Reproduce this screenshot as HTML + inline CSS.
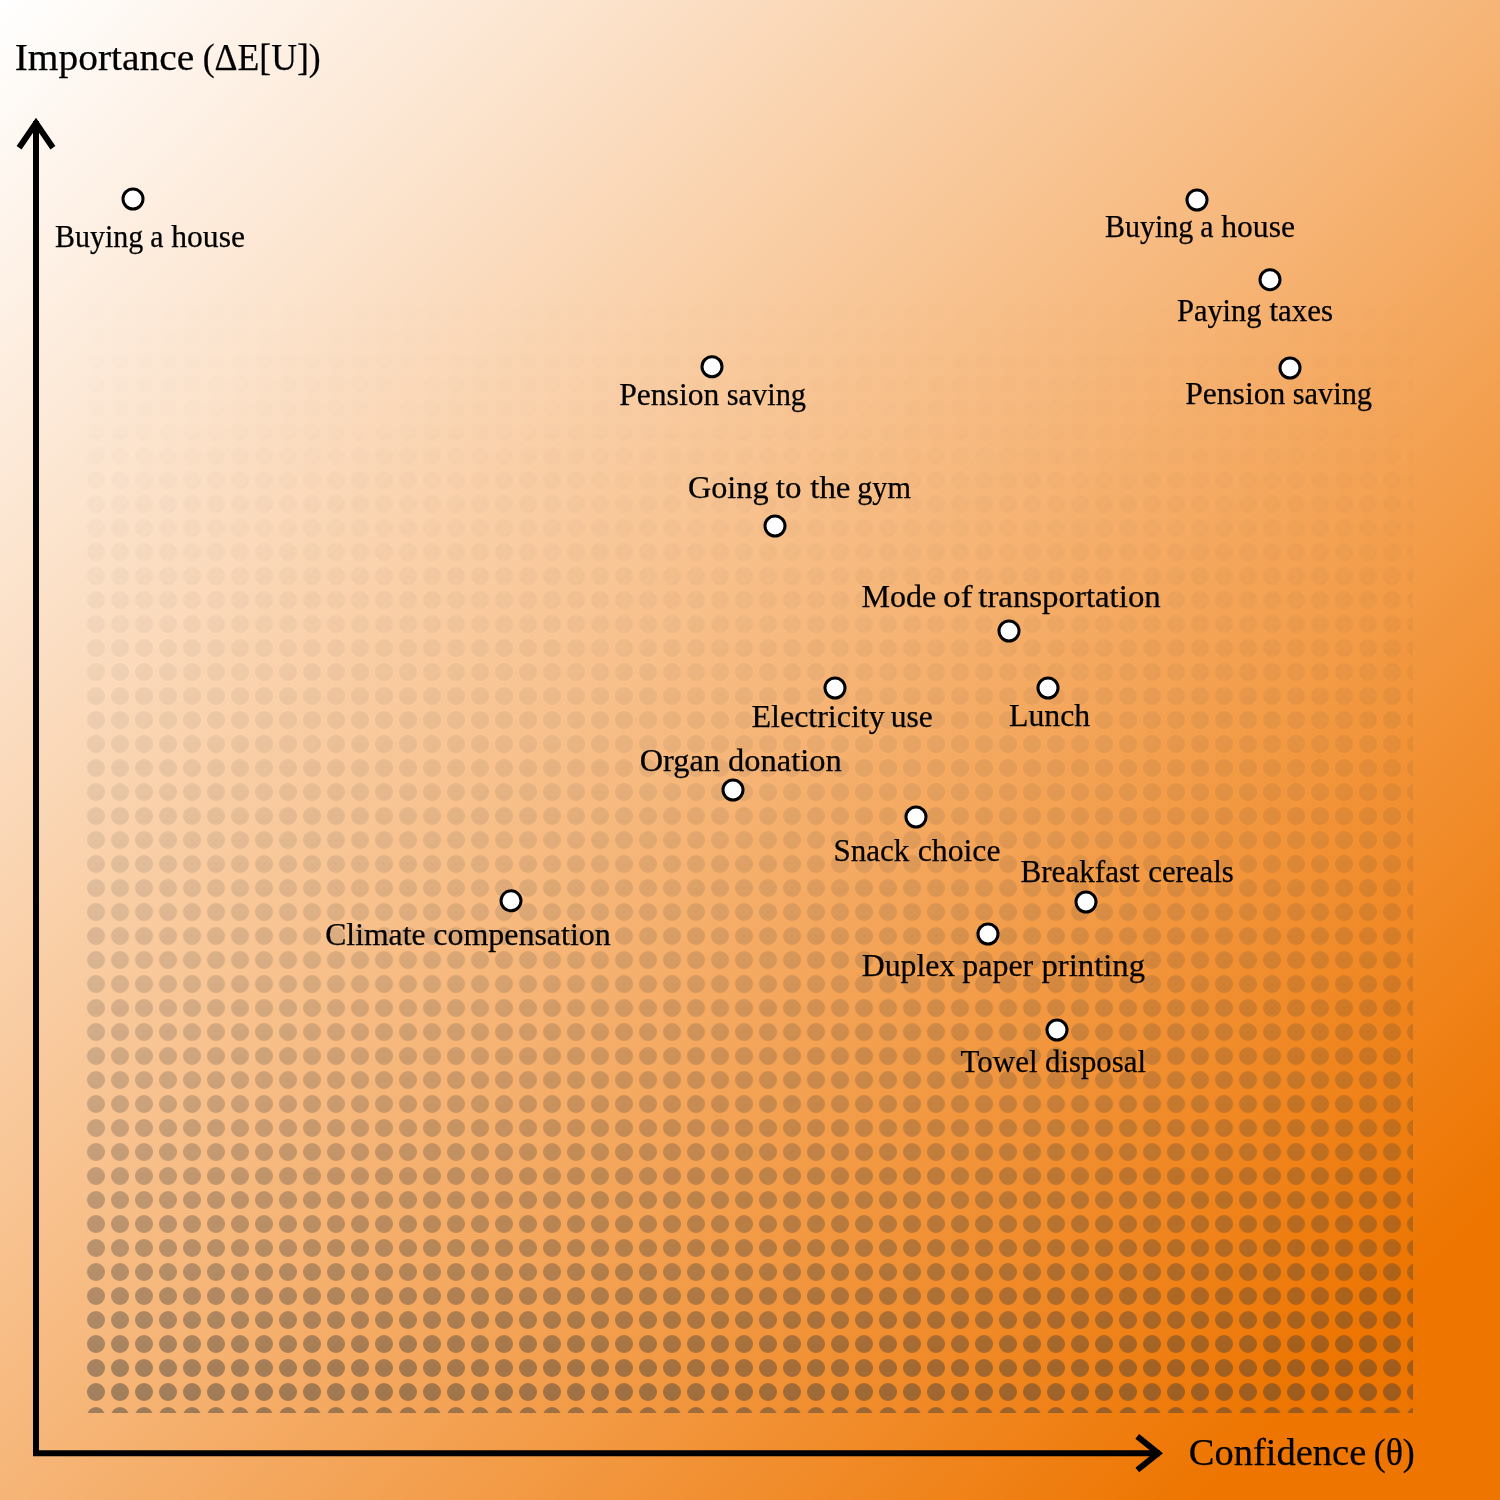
<!DOCTYPE html>
<html lang="en"><head><meta charset="utf-8"><title>Importance vs Confidence</title>
<style>
html,body{margin:0;padding:0;background:#fff;}
body{width:1500px;height:1500px;font-family:"Liberation Serif",serif;}
svg{display:block;}
</style></head><body>

<svg width="1500" height="1500" viewBox="0 0 1500 1500" role="img" aria-label="Importance versus confidence of everyday decisions">
<defs>
<linearGradient id="bg" gradientUnits="userSpaceOnUse" x1="0" y1="0" x2="1350" y2="1350"><stop offset="0" stop-color="#ffffff"/><stop offset="0.2222" stop-color="#fce3cc"/><stop offset="0.5556" stop-color="#f6b577"/><stop offset="1" stop-color="#ee7500"/></linearGradient>
<pattern id="dots" patternUnits="userSpaceOnUse" x="-12" y="-12" width="24" height="24"><circle cx="12" cy="12" r="9" fill="#fff"/></pattern>
<mask id="dm" maskUnits="userSpaceOnUse" x="87" y="87" width="1326" height="1326"><rect x="87" y="87" width="1326" height="1326" fill="url(#dots)"/></mask>
</defs>
<g id="bgrect" shape-rendering="crispEdges">
<rect width="1500" height="1500" fill="#ffffff"/>
<path fill="#fffffe" d="M5.5 0H11.5L0 11.5V5.5z"/>
<path fill="#fffefe" d="M10.5 0H18.5L0 18.5V10.5z"/>
<path fill="#fffefd" d="M17.5 0H30.5L0 30.5V17.5z"/>
<path fill="#fffefc" d="M29.5 0H33.5L0 33.5V29.5z"/>
<path fill="#fffdfc" d="M32.5 0H42.5L0 42.5V32.5z"/>
<path fill="#fffdfb" d="M41.5 0H53.5L0 53.5V41.5z"/>
<path fill="#fffdfa" d="M52.5 0H54.5L0 54.5V52.5z"/>
<path fill="#fffcfa" d="M53.5 0H65.5L0 65.5V53.5z"/>
<path fill="#fffcf9" d="M64.5 0H75.5L0 75.5V64.5z"/>
<path fill="#fffbf9" d="M74.5 0H77.5L0 77.5V74.5z"/>
<path fill="#fffbf8" d="M76.5 0H89.5L0 89.5V76.5z"/>
<path fill="#fffbf7" d="M88.5 0H97.5L0 97.5V88.5z"/>
<path fill="#fffaf7" d="M96.5 0H100.5L0 100.5V96.5z"/>
<path fill="#fefaf6" d="M99.5 0H112.5L0 112.5V99.5z"/>
<path fill="#fefaf5" d="M111.5 0H118.5L0 118.5V111.5z"/>
<path fill="#fef9f5" d="M117.5 0H124.5L0 124.5V117.5z"/>
<path fill="#fef9f4" d="M123.5 0H136.5L0 136.5V123.5z"/>
<path fill="#fef9f3" d="M135.5 0H140.5L0 140.5V135.5z"/>
<path fill="#fef8f3" d="M139.5 0H148.5L0 148.5V139.5z"/>
<path fill="#fef8f2" d="M147.5 0H159.5L0 159.5V147.5z"/>
<path fill="#fef8f1" d="M158.5 0H161.5L0 161.5V158.5z"/>
<path fill="#fef7f1" d="M160.5 0H171.5L0 171.5V160.5z"/>
<path fill="#fef7f0" d="M170.5 0H183.5L0 183.5V170.5z"/>
<path fill="#fef6ef" d="M182.5 0H195.5L0 195.5V182.5z"/>
<path fill="#fef6ee" d="M194.5 0H204.5L0 204.5V194.5z"/>
<path fill="#fef5ee" d="M203.5 0H206.5L0 206.5V203.5z"/>
<path fill="#fef5ed" d="M205.5 0H218.5L0 218.5V205.5z"/>
<path fill="#fef5ec" d="M217.5 0H225.5L0 225.5V217.5z"/>
<path fill="#fef4ec" d="M224.5 0H230.5L0 230.5V224.5z"/>
<path fill="#fef4eb" d="M229.5 0H242.5L0 242.5V229.5z"/>
<path fill="#fef4ea" d="M241.5 0H247.5L0 247.5V241.5z"/>
<path fill="#fef3ea" d="M246.5 0H253.5L0 253.5V246.5z"/>
<path fill="#fef3e9" d="M252.5 0H265.5L0 265.5V252.5z"/>
<path fill="#fef3e8" d="M264.5 0H268.5L0 268.5V264.5z"/>
<path fill="#fef2e8" d="M267.5 0H277.5L0 277.5V267.5z"/>
<path fill="#fef2e7" d="M276.5 0H289.5L0 289.5V276.5z"/>
<path fill="#fef2e6" d="M288.5 0H290.5L0 290.5V288.5z"/>
<path fill="#fef1e6" d="M289.5 0H300.5L0 300.5V289.5z"/>
<path fill="#fdf1e5" d="M299.5 0H311.5L0 311.5V299.5z"/>
<path fill="#fdf0e5" d="M310.5 0H312.5L0 312.5V310.5z"/>
<path fill="#fdf0e4" d="M311.5 0H324.5L0 324.5V311.5z"/>
<path fill="#fdf0e3" d="M323.5 0H333.5L0 333.5V323.5z"/>
<path fill="#fdefe3" d="M332.5 0H336.5L0 336.5V332.5z"/>
<path fill="#fdefe2" d="M335.5 0H348.5L0 348.5V335.5z"/>
<path fill="#fdefe1" d="M347.5 0H354.5L0 354.5V347.5z"/>
<path fill="#fdeee1" d="M353.5 0H359.5L0 359.5V353.5z"/>
<path fill="#fdeee0" d="M358.5 0H371.5L0 371.5V358.5z"/>
<path fill="#fdeedf" d="M370.5 0H375.5L0 375.5V370.5z"/>
<path fill="#fdeddf" d="M374.5 0H383.5L0 383.5V374.5z"/>
<path fill="#fdedde" d="M382.5 0H395.5L0 395.5V382.5z"/>
<path fill="#fdeddd" d="M394.5 0H397.5L0 397.5V394.5z"/>
<path fill="#fdecdd" d="M396.5 0H406.5L0 406.5V396.5z"/>
<path fill="#fdecdc" d="M405.5 0H418.5L0 418.5V405.5z"/>
<path fill="#fdebdb" d="M417.5 0H430.5L0 430.5V417.5z"/>
<path fill="#fdebda" d="M429.5 0H440.5L0 440.5V429.5z"/>
<path fill="#fdeada" d="M439.5 0H442.5L0 442.5V439.5z"/>
<path fill="#fdead9" d="M441.5 0H453.5L0 453.5V441.5z"/>
<path fill="#fdead8" d="M452.5 0H461.5L0 461.5V452.5z"/>
<path fill="#fde9d8" d="M460.5 0H465.5L0 465.5V460.5z"/>
<path fill="#fde9d7" d="M464.5 0H477.5L0 477.5V464.5z"/>
<path fill="#fde9d6" d="M476.5 0H483.5L0 483.5V476.5z"/>
<path fill="#fde8d6" d="M482.5 0H489.5L0 489.5V482.5z"/>
<path fill="#fde8d5" d="M488.5 0H500.5L0 500.5V488.5z"/>
<path fill="#fce8d4" d="M499.5 0H504.5L0 504.5V499.5z"/>
<path fill="#fce7d4" d="M503.5 0H512.5L0 512.5V503.5z"/>
<path fill="#fce7d3" d="M511.5 0H524.5L0 524.5V511.5z"/>
<path fill="#fce7d2" d="M523.5 0H525.5L0 525.5V523.5z"/>
<path fill="#fce6d2" d="M524.5 0H536.5L0 536.5V524.5z"/>
<path fill="#fce6d1" d="M535.5 0H547.5L0 547.5V535.5z"/>
<path fill="#fce5d1" d="M546.5 0H548.5L0 548.5V546.5z"/>
<path fill="#fce5d0" d="M547.5 0H559.5L0 559.5V547.5z"/>
<path fill="#fce5cf" d="M558.5 0H568.5L0 568.5V558.5z"/>
<path fill="#fce4cf" d="M567.5 0H571.5L0 571.5V567.5z"/>
<path fill="#fce4ce" d="M570.5 0H583.5L0 583.5V570.5z"/>
<path fill="#fce4cd" d="M582.5 0H590.5L0 590.5V582.5z"/>
<path fill="#fce3cd" d="M589.5 0H595.5L0 595.5V589.5z"/>
<path fill="#fce3cc" d="M594.5 0H606.5L0 606.5V594.5z"/>
<path fill="#fce3cb" d="M605.5 0H610.5L0 610.5V605.5z"/>
<path fill="#fce2cb" d="M609.5 0H616.5L0 616.5V609.5z"/>
<path fill="#fce2ca" d="M615.5 0H627.5L0 627.5V615.5z"/>
<path fill="#fce2c9" d="M626.5 0H630.5L0 630.5V626.5z"/>
<path fill="#fce1c9" d="M629.5 0H638.5L0 638.5V629.5z"/>
<path fill="#fce1c8" d="M637.5 0H648.5L0 648.5V637.5z"/>
<path fill="#fce1c7" d="M647.5 0H649.5L0 649.5V647.5z"/>
<path fill="#fce0c7" d="M648.5 0H659.5L0 659.5V648.5z"/>
<path fill="#fce0c6" d="M658.5 0H669.5L0 669.5V658.5z"/>
<path fill="#fcdfc5" d="M668.5 0H675.5L0 675.5V668.5z"/>
<path fill="#fbdfc5" d="M674.5 0H680.5L0 680.5V674.5z"/>
<path fill="#fbdfc4" d="M679.5 0H689.5L0 689.5V679.5z"/>
<path fill="#fbdec4" d="M688.5 0H690.5L0 690.5V688.5z"/>
<path fill="#fbdec3" d="M689.5 0H701.5L0 701.5V689.5z"/>
<path fill="#fbdec2" d="M700.5 0H708.5L0 708.5V700.5z"/>
<path fill="#fbddc2" d="M707.5 0H712.5L0 712.5V707.5z"/>
<path fill="#fbddc1" d="M711.5 0H722.5L0 722.5V711.5z"/>
<path fill="#fbddc0" d="M721.5 0H728.5L0 728.5V721.5z"/>
<path fill="#fbdcc0" d="M727.5 0H733.5L0 733.5V727.5z"/>
<path fill="#fbdcbf" d="M732.5 0H743.5L0 743.5V732.5z"/>
<path fill="#fbdcbe" d="M742.5 0H747.5L0 747.5V742.5z"/>
<path fill="#fbdbbe" d="M746.5 0H754.5L0 754.5V746.5z"/>
<path fill="#fbdbbd" d="M753.5 0H765.5L0 765.5V753.5z"/>
<path fill="#fbdbbc" d="M764.5 0H767.5L0 767.5V764.5z"/>
<path fill="#fbdabc" d="M766.5 0H775.5L0 775.5V766.5z"/>
<path fill="#fbdabb" d="M774.5 0H786.5L0 786.5V774.5z"/>
<path fill="#fbd9ba" d="M785.5 0H796.5L0 796.5V785.5z"/>
<path fill="#fbd9b9" d="M795.5 0H806.5L0 806.5V795.5z"/>
<path fill="#fbd8b9" d="M805.5 0H807.5L0 807.5V805.5z"/>
<path fill="#fbd8b8" d="M806.5 0H818.5L0 818.5V806.5z"/>
<path fill="#fbd8b7" d="M817.5 0H825.5L0 825.5V817.5z"/>
<path fill="#fad7b7" d="M824.5 0H828.5L0 828.5V824.5z"/>
<path fill="#fad7b6" d="M827.5 0H839.5L0 839.5V827.5z"/>
<path fill="#fad7b5" d="M838.5 0H845.5L0 845.5V838.5z"/>
<path fill="#fad6b5" d="M844.5 0H849.5L0 849.5V844.5z"/>
<path fill="#fad6b4" d="M848.5 0H860.5L0 860.5V848.5z"/>
<path fill="#fad6b3" d="M859.5 0H865.5L0 865.5V859.5z"/>
<path fill="#fad5b3" d="M864.5 0H870.5L0 870.5V864.5z"/>
<path fill="#fad5b2" d="M869.5 0H881.5L0 881.5V869.5z"/>
<path fill="#fad5b1" d="M880.5 0H884.5L0 884.5V880.5z"/>
<path fill="#fad4b1" d="M883.5 0H892.5L0 892.5V883.5z"/>
<path fill="#fad4b0" d="M891.5 0H902.5L0 902.5V891.5z"/>
<path fill="#fad4af" d="M901.5 0H904.5L0 904.5V901.5z"/>
<path fill="#fad3af" d="M903.5 0H913.5L0 913.5V903.5z"/>
<path fill="#fad3ae" d="M912.5 0H923.5L0 923.5V912.5z"/>
<path fill="#fad2ad" d="M922.5 0H934.5L0 934.5V922.5z"/>
<path fill="#fad2ac" d="M933.5 0H943.5L0 943.5V933.5z"/>
<path fill="#fad1ac" d="M942.5 0H945.5L0 945.5V942.5z"/>
<path fill="#fad1ab" d="M944.5 0H955.5L0 955.5V944.5z"/>
<path fill="#fad1aa" d="M954.5 0H962.5L0 962.5V954.5z"/>
<path fill="#fad0aa" d="M961.5 0H966.5L0 966.5V961.5z"/>
<path fill="#fad0a9" d="M965.5 0H976.5L0 976.5V965.5z"/>
<path fill="#f9d0a8" d="M975.5 0H982.5L0 982.5V975.5z"/>
<path fill="#f9cfa8" d="M981.5 0H987.5L0 987.5V981.5z"/>
<path fill="#f9cfa7" d="M986.5 0H998.5L0 998.5V986.5z"/>
<path fill="#f9cfa6" d="M997.5 0H1002.5L0 1002.5V997.5z"/>
<path fill="#f9cea6" d="M1001.5 0H1008.5L0 1008.5V1001.5z"/>
<path fill="#f9cea5" d="M1007.5 0H1019.5L0 1019.5V1007.5z"/>
<path fill="#f9cea4" d="M1018.5 0H1021.5L0 1021.5V1018.5z"/>
<path fill="#f9cda4" d="M1020.5 0H1029.5L0 1029.5V1020.5z"/>
<path fill="#f9cda3" d="M1028.5 0H1040.5L0 1040.5V1028.5z"/>
<path fill="#f9cda2" d="M1039.5 0H1041.5L0 1041.5V1039.5z"/>
<path fill="#f9cca2" d="M1040.5 0H1051.5L0 1051.5V1040.5z"/>
<path fill="#f9cca1" d="M1050.5 0H1060.5L0 1060.5V1050.5z"/>
<path fill="#f9cba1" d="M1059.5 0H1061.5L0 1061.5V1059.5z"/>
<path fill="#f9cba0" d="M1060.5 0H1072.5L0 1072.5V1060.5z"/>
<path fill="#f9cb9f" d="M1071.5 0H1080.5L0 1080.5V1071.5z"/>
<path fill="#f9ca9f" d="M1079.5 0H1082.5L0 1082.5V1079.5z"/>
<path fill="#f9ca9e" d="M1081.5 0H1093.5L0 1093.5V1081.5z"/>
<path fill="#f9ca9d" d="M1092.5 0H1099.5L0 1099.5V1092.5z"/>
<path fill="#f9c99d" d="M1098.5 0H1103.5L0 1103.5V1098.5z"/>
<path fill="#f9c99c" d="M1102.5 0H1114.5L0 1114.5V1102.5z"/>
<path fill="#f9c99b" d="M1113.5 0H1119.5L0 1119.5V1113.5z"/>
<path fill="#f9c89b" d="M1118.5 0H1125.5L0 1125.5V1118.5z"/>
<path fill="#f9c89a" d="M1124.5 0H1126.5L0 1126.5V1124.5z"/>
<path fill="#f8c89a" d="M1125.5 0H1135.5L0 1135.5V1125.5z"/>
<path fill="#f8c899" d="M1134.5 0H1139.5L0 1139.5V1134.5z"/>
<path fill="#f8c799" d="M1138.5 0H1146.5L0 1146.5V1138.5z"/>
<path fill="#f8c798" d="M1145.5 0H1156.5L0 1156.5V1145.5z"/>
<path fill="#f8c797" d="M1155.5 0H1158.5L0 1158.5V1155.5z"/>
<path fill="#f8c697" d="M1157.5 0H1167.5L0 1167.5V1157.5z"/>
<path fill="#f8c696" d="M1166.5 0H1178.5L0 1178.5V1166.5z"/>
<path fill="#f8c595" d="M1177.5 0H1188.5L0 1188.5V1177.5z"/>
<path fill="#f8c594" d="M1187.5 0H1197.5L0 1197.5V1187.5z"/>
<path fill="#f8c494" d="M1196.5 0H1199.5L0 1199.5V1196.5z"/>
<path fill="#f8c493" d="M1198.5 0H1209.5L0 1209.5V1198.5z"/>
<path fill="#f8c492" d="M1208.5 0H1217.5L0 1217.5V1208.5z"/>
<path fill="#f8c392" d="M1216.5 0H1220.5L0 1220.5V1216.5z"/>
<path fill="#f8c391" d="M1219.5 0H1231.5L0 1231.5V1219.5z"/>
<path fill="#f8c390" d="M1230.5 0H1236.5L0 1236.5V1230.5z"/>
<path fill="#f8c290" d="M1235.5 0H1241.5L0 1241.5V1235.5z"/>
<path fill="#f8c28f" d="M1240.5 0H1252.5L0 1252.5V1240.5z"/>
<path fill="#f8c28e" d="M1251.5 0H1256.5L0 1256.5V1251.5z"/>
<path fill="#f8c18e" d="M1255.5 0H1262.5L0 1262.5V1255.5z"/>
<path fill="#f8c18d" d="M1261.5 0H1273.5L0 1273.5V1261.5z"/>
<path fill="#f8c18c" d="M1272.5 0H1276.5L0 1276.5V1272.5z"/>
<path fill="#f7c08c" d="M1275.5 0H1284.5L0 1284.5V1275.5z"/>
<path fill="#f7c08b" d="M1283.5 0H1294.5L0 1294.5V1283.5z"/>
<path fill="#f7c08a" d="M1293.5 0H1295.5L0 1295.5V1293.5z"/>
<path fill="#f7bf8a" d="M1294.5 0H1305.5L0 1305.5V1294.5z"/>
<path fill="#f7bf89" d="M1304.5 0H1315.5L0 1315.5V1304.5z"/>
<path fill="#f7be88" d="M1314.5 0H1326.5L0 1326.5V1314.5z"/>
<path fill="#f7be87" d="M1325.5 0H1334.5L0 1334.5V1325.5z"/>
<path fill="#f7bd87" d="M1333.5 0H1336.5L0 1336.5V1333.5z"/>
<path fill="#f7bd86" d="M1335.5 0H1347.5L0 1347.5V1335.5z"/>
<path fill="#f7bd85" d="M1346.5 0H1354.5L0 1354.5V1346.5z"/>
<path fill="#f7bc85" d="M1353.5 0H1358.5L0 1358.5V1353.5z"/>
<path fill="#f7bc84" d="M1357.5 0H1368.5L0 1368.5V1357.5z"/>
<path fill="#f7bc83" d="M1367.5 0H1373.5L0 1373.5V1367.5z"/>
<path fill="#f7bb83" d="M1372.5 0H1379.5L0 1379.5V1372.5z"/>
<path fill="#f7bb82" d="M1378.5 0H1389.5L0 1389.5V1378.5z"/>
<path fill="#f7bb81" d="M1388.5 0H1393.5L0 1393.5V1388.5z"/>
<path fill="#f7ba81" d="M1392.5 0H1400.5L0 1400.5V1392.5z"/>
<path fill="#f7ba80" d="M1399.5 0H1411.5L0 1411.5V1399.5z"/>
<path fill="#f7ba7f" d="M1410.5 0H1413.5L0 1413.5V1410.5z"/>
<path fill="#f7b97f" d="M1412.5 0H1421.5L0 1421.5V1412.5z"/>
<path fill="#f7b97e" d="M1420.5 0H1426.5L0 1426.5V1420.5z"/>
<path fill="#f6b97e" d="M1425.5 0H1432.5L0 1432.5V1425.5z"/>
<path fill="#f6b87d" d="M1431.5 0H1442.5L0 1442.5V1431.5z"/>
<path fill="#f6b87c" d="M1441.5 0H1452.5L0 1452.5V1441.5z"/>
<path fill="#f6b77c" d="M1451.5 0H1453.5L0 1453.5V1451.5z"/>
<path fill="#f6b77b" d="M1452.5 0H1464.5L0 1464.5V1452.5z"/>
<path fill="#f6b77a" d="M1463.5 0H1471.5L0 1471.5V1463.5z"/>
<path fill="#f6b67a" d="M1470.5 0H1474.5L0 1474.5V1470.5z"/>
<path fill="#f6b679" d="M1473.5 0H1485.5L0 1485.5V1473.5z"/>
<path fill="#f6b678" d="M1484.5 0H1491.5L0 1491.5V1484.5z"/>
<path fill="#f6b578" d="M1490.5 0H1495.5L0 1495.5V1490.5z"/>
<path fill="#f6b577" d="M1494.5 0H1506.5L0 1506.5V1494.5z"/>
<path fill="#f6b576" d="M1505.5 0H1510.5L0 1510.5V1505.5z"/>
<path fill="#f6b476" d="M1509.5 0H1516.5L0 1516.5V1509.5z"/>
<path fill="#f6b475" d="M1515.5 0H1526.5L0 1526.5V1515.5z"/>
<path fill="#f6b474" d="M1525.5 0H1529.5L0 1529.5V1525.5z"/>
<path fill="#f6b374" d="M1528.5 0H1536.5L0 1536.5V1528.5z"/>
<path fill="#f6b373" d="M1535.5 0H1546.5L0 1546.5V1535.5z"/>
<path fill="#f6b372" d="M1545.5 0H1547.5L0 1547.5V1545.5z"/>
<path fill="#f6b272" d="M1546.5 0H1556.5L0 1556.5V1546.5z"/>
<path fill="#f6b271" d="M1555.5 0H1566.5L0 1566.5V1555.5z"/>
<path fill="#f6b170" d="M1565.5 0H1576.5L0 1576.5V1565.5z"/>
<path fill="#f5b16f" d="M1575.5 0H1585.5L0 1585.5V1575.5z"/>
<path fill="#f5b06f" d="M1584.5 0H1586.5L0 1586.5V1584.5z"/>
<path fill="#f5b06e" d="M1585.5 0H1596.5L0 1596.5V1585.5z"/>
<path fill="#f5b06d" d="M1595.5 0H1604.5L0 1604.5V1595.5z"/>
<path fill="#f5af6d" d="M1603.5 0H1606.5L0 1606.5V1603.5z"/>
<path fill="#f5af6c" d="M1605.5 0H1617.5L0 1617.5V1605.5z"/>
<path fill="#f5af6b" d="M1616.5 0H1622.5L0 1622.5V1616.5z"/>
<path fill="#f5ae6b" d="M1621.5 0H1627.5L0 1627.5V1621.5z"/>
<path fill="#f5ae6a" d="M1626.5 0H1637.5L0 1637.5V1626.5z"/>
<path fill="#f5ae69" d="M1636.5 0H1641.5L0 1641.5V1636.5z"/>
<path fill="#f5ad69" d="M1640.5 0H1647.5L0 1647.5V1640.5z"/>
<path fill="#f5ad68" d="M1646.5 0H1657.5L0 1657.5V1646.5z"/>
<path fill="#f5ad67" d="M1656.5 0H1660.5L0 1660.5V1656.5z"/>
<path fill="#f5ac67" d="M1659.5 0H1667.5L0 1667.5V1659.5z"/>
<path fill="#f5ac66" d="M1666.5 0H1677.5L0 1677.5V1666.5z"/>
<path fill="#f5ac65" d="M1676.5 0H1679.5L0 1679.5V1676.5z"/>
<path fill="#f5ab65" d="M1678.5 0H1687.5L0 1687.5V1678.5z"/>
<path fill="#f5ab64" d="M1686.5 0H1697.5L0 1697.5V1686.5z"/>
<path fill="#f5aa63" d="M1696.5 0H1707.5L0 1707.5V1696.5z"/>
<path fill="#f5aa62" d="M1706.5 0H1716.5L0 1716.5V1706.5z"/>
<path fill="#f5a962" d="M1715.5 0H1717.5L0 1717.5V1715.5z"/>
<path fill="#f5a961" d="M1716.5 0H1726.5L0 1726.5V1716.5z"/>
<path fill="#f4a961" d="M1725.5 0H1727.5L0 1727.5V1725.5z"/>
<path fill="#f4a960" d="M1726.5 0H1735.5L0 1735.5V1726.5z"/>
<path fill="#f4a860" d="M1734.5 0H1738.5L0 1738.5V1734.5z"/>
<path fill="#f4a85f" d="M1737.5 0H1748.5L0 1748.5V1737.5z"/>
<path fill="#f4a85e" d="M1747.5 0H1754.5L0 1754.5V1747.5z"/>
<path fill="#f4a75e" d="M1753.5 0H1758.5L0 1758.5V1753.5z"/>
<path fill="#f4a75d" d="M1757.5 0H1768.5L0 1768.5V1757.5z"/>
<path fill="#f4a75c" d="M1767.5 0H1772.5L0 1772.5V1767.5z"/>
<path fill="#f4a65c" d="M1771.5 0H1778.5L0 1778.5V1771.5z"/>
<path fill="#f4a65b" d="M1777.5 0H1788.5L0 1788.5V1777.5z"/>
<path fill="#f4a65a" d="M1787.5 0H1791.5L0 1791.5V1787.5z"/>
<path fill="#f4a55a" d="M1790.5 0H1798.5L0 1798.5V1790.5z"/>
<path fill="#f4a559" d="M1797.5 0H1808.5L0 1808.5V1797.5z"/>
<path fill="#f4a558" d="M1807.5 0H1810.5L0 1810.5V1807.5z"/>
<path fill="#f4a458" d="M1809.5 0H1818.5L0 1818.5V1809.5z"/>
<path fill="#f4a457" d="M1817.5 0H1828.5L0 1828.5V1817.5z"/>
<path fill="#f4a456" d="M1827.5 0H1829.5L0 1829.5V1827.5z"/>
<path fill="#f4a356" d="M1828.5 0H1838.5L0 1838.5V1828.5z"/>
<path fill="#f4a355" d="M1837.5 0H1847.5L0 1847.5V1837.5z"/>
<path fill="#f4a255" d="M1846.5 0H1848.5L0 1848.5V1846.5z"/>
<path fill="#f4a254" d="M1847.5 0H1859.5L0 1859.5V1847.5z"/>
<path fill="#f4a253" d="M1858.5 0H1866.5L0 1866.5V1858.5z"/>
<path fill="#f4a153" d="M1865.5 0H1869.5L0 1869.5V1865.5z"/>
<path fill="#f4a152" d="M1868.5 0H1876.5L0 1876.5V1868.5z"/>
<path fill="#f3a152" d="M1875.5 0H1879.5L0 1879.5V1875.5z"/>
<path fill="#f3a151" d="M1878.5 0H1885.5L0 1885.5V1878.5z"/>
<path fill="#f3a051" d="M1884.5 0H1889.5L0 1889.5V1884.5z"/>
<path fill="#f3a050" d="M1888.5 0H1899.5L0 1899.5V1888.5z"/>
<path fill="#f3a04f" d="M1898.5 0H1904.5L0 1904.5V1898.5z"/>
<path fill="#f39f4f" d="M1903.5 0H1909.5L0 1909.5V1903.5z"/>
<path fill="#f39f4e" d="M1908.5 0H1919.5L0 1919.5V1908.5z"/>
<path fill="#f39f4d" d="M1918.5 0H1922.5L0 1922.5V1918.5z"/>
<path fill="#f39e4d" d="M1921.5 0H1929.5L0 1929.5V1921.5z"/>
<path fill="#f39e4c" d="M1928.5 0H1939.5L0 1939.5V1928.5z"/>
<path fill="#f39e4b" d="M1938.5 0H1941.5L0 1941.5V1938.5z"/>
<path fill="#f39d4b" d="M1940.5 0H1949.5L0 1949.5V1940.5z"/>
<path fill="#f39d4a" d="M1948.5 0H1959.5L0 1959.5V1948.5z"/>
<path fill="#f39d49" d="M1958.5 0H1960.5L0 1960.5V1958.5z"/>
<path fill="#f39c49" d="M1959.5 0H1969.5L0 1969.5V1959.5z"/>
<path fill="#f39c48" d="M1968.5 0H1979.5L0 1979.5V1968.5z"/>
<path fill="#f39b48" d="M1978.5 0H1980.5L0 1980.5V1978.5z"/>
<path fill="#f39b47" d="M1979.5 0H1990.5L0 1990.5V1979.5z"/>
<path fill="#f39b46" d="M1989.5 0H1997.5L0 1997.5V1989.5z"/>
<path fill="#f39a46" d="M1996.5 0H2000.5L0 2000.5V1996.5z"/>
<path fill="#f39a45" d="M1999.5 0H2010.5L0 2010.5V1999.5z"/>
<path fill="#f39a44" d="M2009.5 0H2016.5L0 2016.5V2009.5z"/>
<path fill="#f39944" d="M2015.5 0H2020.5L0 2020.5V2015.5z"/>
<path fill="#f39943" d="M2019.5 0H2026.5L0 2026.5V2019.5z"/>
<path fill="#f29943" d="M2025.5 0H2030.5L0 2030.5V2025.5z"/>
<path fill="#f29942" d="M2029.5 0H2035.5L0 2035.5V2029.5z"/>
<path fill="#f29842" d="M2034.5 0H2040.5L0 2040.5V2034.5z"/>
<path fill="#f29841" d="M2039.5 0H2050.5L0 2050.5V2039.5z"/>
<path fill="#f29840" d="M2049.5 0H2054.5L0 2054.5V2049.5z"/>
<path fill="#f29740" d="M2053.5 0H2060.5L0 2060.5V2053.5z"/>
<path fill="#f2973f" d="M2059.5 0H2070.5L0 2070.5V2059.5z"/>
<path fill="#f2973e" d="M2069.5 0H2072.5L0 2072.5V2069.5z"/>
<path fill="#f2963e" d="M2071.5 0H2080.5L0 2080.5V2071.5z"/>
<path fill="#f2963d" d="M2079.5 0H2090.5L0 2090.5V2079.5z"/>
<path fill="#f2963c" d="M2089.5 0H2091.5L0 2091.5V2089.5z"/>
<path fill="#f2953c" d="M2090.5 0H2101.5L0 2101.5V2090.5z"/>
<path fill="#f2953b" d="M2100.5 0H2110.5L0 2110.5V2100.5z"/>
<path fill="#f2943b" d="M2109.5 0H2111.5L0 2111.5V2109.5z"/>
<path fill="#f2943a" d="M2110.5 0H2121.5L0 2121.5V2110.5z"/>
<path fill="#f29439" d="M2120.5 0H2129.5L0 2129.5V2120.5z"/>
<path fill="#f29339" d="M2128.5 0H2131.5L0 2131.5V2128.5z"/>
<path fill="#f29338" d="M2130.5 0H2141.5L0 2141.5V2130.5z"/>
<path fill="#f29337" d="M2140.5 0H2147.5L0 2147.5V2140.5z"/>
<path fill="#f29237" d="M2146.5 0H2151.5L0 2151.5V2146.5z"/>
<path fill="#f29236" d="M2150.5 0H2161.5L0 2161.5V2150.5z"/>
<path fill="#f29235" d="M2160.5 0H2166.5L0 2166.5V2160.5z"/>
<path fill="#f29135" d="M2165.5 0H2171.5L0 2171.5V2165.5z"/>
<path fill="#f29134" d="M2170.5 0H2176.5L0 2176.5V2170.5z"/>
<path fill="#f19134" d="M2175.5 0H2181.5L0 2181.5V2175.5z"/>
<path fill="#f19133" d="M2180.5 0H2185.5L0 2185.5V2180.5z"/>
<path fill="#f19033" d="M2184.5 0H2191.5L0 2191.5V2184.5z"/>
<path fill="#f19032" d="M2190.5 0H2201.5L0 2201.5V2190.5z"/>
<path fill="#f19031" d="M2200.5 0H2204.5L0 2204.5V2200.5z"/>
<path fill="#f18f31" d="M2203.5 0H2211.5L0 2211.5V2203.5z"/>
<path fill="#f18f30" d="M2210.5 0H2222.5L0 2222.5V2210.5z"/>
<path fill="#f18e2f" d="M2221.5 0H2232.5L0 2232.5V2221.5z"/>
<path fill="#f18e2e" d="M2231.5 0H2241.5L0 2241.5V2231.5z"/>
<path fill="#f18d2e" d="M2240.5 0H2242.5L0 2242.5V2240.5z"/>
<path fill="#f18d2d" d="M2241.5 0H2252.5L0 2252.5V2241.5z"/>
<path fill="#f18d2c" d="M2251.5 0H2260.5L0 2260.5V2251.5z"/>
<path fill="#f18c2c" d="M2259.5 0H2262.5L0 2262.5V2259.5z"/>
<path fill="#f18c2b" d="M2261.5 0H2272.5L0 2272.5V2261.5z"/>
<path fill="#f18c2a" d="M2271.5 0H2279.5L0 2279.5V2271.5z"/>
<path fill="#f18b2a" d="M2278.5 0H2282.5L0 2282.5V2278.5z"/>
<path fill="#f18b29" d="M2281.5 0H2292.5L0 2292.5V2281.5z"/>
<path fill="#f18b28" d="M2291.5 0H2297.5L0 2297.5V2291.5z"/>
<path fill="#f18a28" d="M2296.5 0H2302.5L0 2302.5V2296.5z"/>
<path fill="#f18a27" d="M2301.5 0H2312.5L0 2312.5V2301.5z"/>
<path fill="#f18a26" d="M2311.5 0H2316.5L0 2316.5V2311.5z"/>
<path fill="#f18926" d="M2315.5 0H2322.5L0 2322.5V2315.5z"/>
<path fill="#f18925" d="M2321.5 0H2326.5L0 2326.5V2321.5z"/>
<path fill="#f08925" d="M2325.5 0H2332.5L0 2332.5V2325.5z"/>
<path fill="#f08924" d="M2331.5 0H2335.5L0 2335.5V2331.5z"/>
<path fill="#f08824" d="M2334.5 0H2343.5L0 2343.5V2334.5z"/>
<path fill="#f08823" d="M2342.5 0H2353.5L0 2353.5V2342.5z"/>
<path fill="#f08822" d="M2352.5 0H2354.5L0 2354.5V2352.5z"/>
<path fill="#f08722" d="M2353.5 0H2363.5L0 2363.5V2353.5z"/>
<path fill="#f08721" d="M2362.5 0H2372.5L0 2372.5V2362.5z"/>
<path fill="#f08621" d="M2371.5 0H2373.5L0 2373.5V2371.5z"/>
<path fill="#f08620" d="M2372.5 0H2383.5L0 2383.5V2372.5z"/>
<path fill="#f0861f" d="M2382.5 0H2391.5L0 2391.5V2382.5z"/>
<path fill="#f0851f" d="M2390.5 0H2393.5L0 2393.5V2390.5z"/>
<path fill="#f0851e" d="M2392.5 0H2403.5L0 2403.5V2392.5z"/>
<path fill="#f0851d" d="M2402.5 0H2410.5L0 2410.5V2402.5z"/>
<path fill="#f0841d" d="M2409.5 0H2413.5L0 2413.5V2409.5z"/>
<path fill="#f0841c" d="M2412.5 0H2423.5L0 2423.5V2412.5z"/>
<path fill="#f0841b" d="M2422.5 0H2429.5L0 2429.5V2422.5z"/>
<path fill="#f0831b" d="M2428.5 0H2433.5L0 2433.5V2428.5z"/>
<path fill="#f0831a" d="M2432.5 0H2443.5L0 2443.5V2432.5z"/>
<path fill="#f08319" d="M2442.5 0H2447.5L0 2447.5V2442.5z"/>
<path fill="#f08219" d="M2446.5 0H2453.5L0 2453.5V2446.5z"/>
<path fill="#f08218" d="M2452.5 0H2464.5L0 2464.5V2452.5z"/>
<path fill="#f08217" d="M2463.5 0H2466.5L0 2466.5V2463.5z"/>
<path fill="#f08117" d="M2465.5 0H2474.5L0 2474.5V2465.5z"/>
<path fill="#f08116" d="M2473.5 0H2476.5L0 2476.5V2473.5z"/>
<path fill="#ef8116" d="M2475.5 0H2484.5L0 2484.5V2475.5z"/>
<path fill="#ef8115" d="M2483.5 0H2485.5L0 2485.5V2483.5z"/>
<path fill="#ef8015" d="M2484.5 0H2494.5L0 2494.5V2484.5z"/>
<path fill="#ef8014" d="M2493.5 0H2504.5L0 2504.5V2493.5z"/>
<path fill="#ef7f13" d="M2503.5 0H2514.5L0 2514.5V2503.5z"/>
<path fill="#ef7f12" d="M2513.5 0H2522.5L0 2522.5V2513.5z"/>
<path fill="#ef7e12" d="M2521.5 0H2524.5L0 2524.5V2521.5z"/>
<path fill="#ef7e11" d="M2523.5 0H2534.5L0 2534.5V2523.5z"/>
<path fill="#ef7e10" d="M2533.5 0H2541.5L0 2541.5V2533.5z"/>
<path fill="#ef7d10" d="M2540.5 0H2544.5L0 2544.5V2540.5z"/>
<path fill="#ef7d0f" d="M2543.5 0H2554.5L0 2554.5V2543.5z"/>
<path fill="#ef7d0e" d="M2553.5 0H2560.5L0 2560.5V2553.5z"/>
<path fill="#ef7c0e" d="M2559.5 0H2564.5L0 2564.5V2559.5z"/>
<path fill="#ef7c0d" d="M2563.5 0H2574.5L0 2574.5V2563.5z"/>
<path fill="#ef7c0c" d="M2573.5 0H2579.5L0 2579.5V2573.5z"/>
<path fill="#ef7b0c" d="M2578.5 0H2585.5L0 2585.5V2578.5z"/>
<path fill="#ef7b0b" d="M2584.5 0H2595.5L0 2595.5V2584.5z"/>
<path fill="#ef7b0a" d="M2594.5 0H2597.5L0 2597.5V2594.5z"/>
<path fill="#ef7a0a" d="M2596.5 0H2605.5L0 2605.5V2596.5z"/>
<path fill="#ef7a09" d="M2604.5 0H2615.5L0 2615.5V2604.5z"/>
<path fill="#ef7a08" d="M2614.5 0H2616.5L0 2616.5V2614.5z"/>
<path fill="#ef7908" d="M2615.5 0H2625.5L0 2625.5V2615.5z"/>
<path fill="#ef7907" d="M2624.5 0H2626.5L0 2626.5V2624.5z"/>
<path fill="#ee7907" d="M2625.5 0H2635.5L0 2635.5V2625.5z"/>
<path fill="#ee7806" d="M2634.5 0H2645.5L0 2645.5V2634.5z"/>
<path fill="#ee7805" d="M2644.5 0H2654.5L0 2654.5V2644.5z"/>
<path fill="#ee7705" d="M2653.5 0H2655.5L0 2655.5V2653.5z"/>
<path fill="#ee7704" d="M2654.5 0H2665.5L0 2665.5V2654.5z"/>
<path fill="#ee7703" d="M2664.5 0H2672.5L0 2672.5V2664.5z"/>
<path fill="#ee7603" d="M2671.5 0H2675.5L0 2675.5V2671.5z"/>
<path fill="#ee7602" d="M2674.5 0H2685.5L0 2685.5V2674.5z"/>
<path fill="#ee7601" d="M2684.5 0H2691.5L0 2691.5V2684.5z"/>
<path fill="#ee7501" d="M2690.5 0H2695.5L0 2695.5V2690.5z"/>
<path fill="#ee7500" d="M2694.5 0H3002.5L0 3002.5V2694.5z"/>
</g>
<g id="dotrect" mask="url(#dm)" fill="#3d3d3d" shape-rendering="crispEdges">
<rect x="87" y="303" width="1326" height="3" fill-opacity="0.0022"/>
<rect x="87" y="306" width="1326" height="3" fill-opacity="0.0023"/>
<rect x="87" y="309" width="1326" height="3" fill-opacity="0.0025"/>
<rect x="87" y="312" width="1326" height="3" fill-opacity="0.0027"/>
<rect x="87" y="315" width="1326" height="3" fill-opacity="0.0029"/>
<rect x="87" y="318" width="1326" height="3" fill-opacity="0.0031"/>
<rect x="87" y="321" width="1326" height="3" fill-opacity="0.0033"/>
<rect x="87" y="324" width="1326" height="3" fill-opacity="0.0035"/>
<rect x="87" y="327" width="1326" height="3" fill-opacity="0.0037"/>
<rect x="87" y="330" width="1326" height="3" fill-opacity="0.0039"/>
<rect x="87" y="333" width="1326" height="3" fill-opacity="0.0041"/>
<rect x="87" y="336" width="1326" height="3" fill-opacity="0.0043"/>
<rect x="87" y="339" width="1326" height="3" fill-opacity="0.0046"/>
<rect x="87" y="342" width="1326" height="3" fill-opacity="0.0048"/>
<rect x="87" y="345" width="1326" height="3" fill-opacity="0.0050"/>
<rect x="87" y="348" width="1326" height="3" fill-opacity="0.0052"/>
<rect x="87" y="351" width="1326" height="3" fill-opacity="0.0055"/>
<rect x="87" y="354" width="1326" height="3" fill-opacity="0.0057"/>
<rect x="87" y="357" width="1326" height="3" fill-opacity="0.0060"/>
<rect x="87" y="360" width="1326" height="3" fill-opacity="0.0062"/>
<rect x="87" y="363" width="1326" height="3" fill-opacity="0.0065"/>
<rect x="87" y="366" width="1326" height="3" fill-opacity="0.0067"/>
<rect x="87" y="369" width="1326" height="3" fill-opacity="0.0070"/>
<rect x="87" y="372" width="1326" height="3" fill-opacity="0.0073"/>
<rect x="87" y="375" width="1326" height="3" fill-opacity="0.0075"/>
<rect x="87" y="378" width="1326" height="3" fill-opacity="0.0078"/>
<rect x="87" y="381" width="1326" height="3" fill-opacity="0.0081"/>
<rect x="87" y="384" width="1326" height="3" fill-opacity="0.0084"/>
<rect x="87" y="387" width="1326" height="3" fill-opacity="0.0087"/>
<rect x="87" y="390" width="1326" height="3" fill-opacity="0.0090"/>
<rect x="87" y="393" width="1326" height="3" fill-opacity="0.0092"/>
<rect x="87" y="396" width="1326" height="3" fill-opacity="0.0096"/>
<rect x="87" y="399" width="1326" height="3" fill-opacity="0.0099"/>
<rect x="87" y="402" width="1326" height="3" fill-opacity="0.0102"/>
<rect x="87" y="405" width="1326" height="3" fill-opacity="0.0105"/>
<rect x="87" y="408" width="1326" height="3" fill-opacity="0.0108"/>
<rect x="87" y="411" width="1326" height="3" fill-opacity="0.0111"/>
<rect x="87" y="414" width="1326" height="3" fill-opacity="0.0114"/>
<rect x="87" y="417" width="1326" height="3" fill-opacity="0.0118"/>
<rect x="87" y="420" width="1326" height="3" fill-opacity="0.0121"/>
<rect x="87" y="423" width="1326" height="3" fill-opacity="0.0125"/>
<rect x="87" y="426" width="1326" height="3" fill-opacity="0.0128"/>
<rect x="87" y="429" width="1326" height="3" fill-opacity="0.0132"/>
<rect x="87" y="432" width="1326" height="3" fill-opacity="0.0135"/>
<rect x="87" y="435" width="1326" height="3" fill-opacity="0.0139"/>
<rect x="87" y="438" width="1326" height="3" fill-opacity="0.0142"/>
<rect x="87" y="441" width="1326" height="3" fill-opacity="0.0146"/>
<rect x="87" y="444" width="1326" height="3" fill-opacity="0.0150"/>
<rect x="87" y="447" width="1326" height="3" fill-opacity="0.0154"/>
<rect x="87" y="450" width="1326" height="3" fill-opacity="0.0157"/>
<rect x="87" y="453" width="1326" height="3" fill-opacity="0.0161"/>
<rect x="87" y="456" width="1326" height="3" fill-opacity="0.0165"/>
<rect x="87" y="459" width="1326" height="3" fill-opacity="0.0169"/>
<rect x="87" y="462" width="1326" height="3" fill-opacity="0.0173"/>
<rect x="87" y="465" width="1326" height="3" fill-opacity="0.0177"/>
<rect x="87" y="468" width="1326" height="3" fill-opacity="0.0181"/>
<rect x="87" y="471" width="1326" height="3" fill-opacity="0.0186"/>
<rect x="87" y="474" width="1326" height="3" fill-opacity="0.0190"/>
<rect x="87" y="477" width="1326" height="3" fill-opacity="0.0194"/>
<rect x="87" y="480" width="1326" height="3" fill-opacity="0.0198"/>
<rect x="87" y="483" width="1326" height="3" fill-opacity="0.0203"/>
<rect x="87" y="486" width="1326" height="3" fill-opacity="0.0207"/>
<rect x="87" y="489" width="1326" height="3" fill-opacity="0.0212"/>
<rect x="87" y="492" width="1326" height="3" fill-opacity="0.0216"/>
<rect x="87" y="495" width="1326" height="3" fill-opacity="0.0221"/>
<rect x="87" y="498" width="1326" height="3" fill-opacity="0.0225"/>
<rect x="87" y="501" width="1326" height="3" fill-opacity="0.0230"/>
<rect x="87" y="504" width="1326" height="3" fill-opacity="0.0235"/>
<rect x="87" y="507" width="1326" height="3" fill-opacity="0.0239"/>
<rect x="87" y="510" width="1326" height="3" fill-opacity="0.0244"/>
<rect x="87" y="513" width="1326" height="3" fill-opacity="0.0249"/>
<rect x="87" y="516" width="1326" height="3" fill-opacity="0.0254"/>
<rect x="87" y="519" width="1326" height="3" fill-opacity="0.0259"/>
<rect x="87" y="522" width="1326" height="3" fill-opacity="0.0264"/>
<rect x="87" y="525" width="1326" height="3" fill-opacity="0.0269"/>
<rect x="87" y="528" width="1326" height="3" fill-opacity="0.0274"/>
<rect x="87" y="531" width="1326" height="3" fill-opacity="0.0279"/>
<rect x="87" y="534" width="1326" height="3" fill-opacity="0.0285"/>
<rect x="87" y="537" width="1326" height="3" fill-opacity="0.0290"/>
<rect x="87" y="540" width="1326" height="3" fill-opacity="0.0295"/>
<rect x="87" y="543" width="1326" height="3" fill-opacity="0.0301"/>
<rect x="87" y="546" width="1326" height="3" fill-opacity="0.0306"/>
<rect x="87" y="549" width="1326" height="3" fill-opacity="0.0312"/>
<rect x="87" y="552" width="1326" height="3" fill-opacity="0.0317"/>
<rect x="87" y="555" width="1326" height="3" fill-opacity="0.0323"/>
<rect x="87" y="558" width="1326" height="3" fill-opacity="0.0329"/>
<rect x="87" y="561" width="1326" height="3" fill-opacity="0.0334"/>
<rect x="87" y="564" width="1326" height="3" fill-opacity="0.0340"/>
<rect x="87" y="567" width="1326" height="3" fill-opacity="0.0346"/>
<rect x="87" y="570" width="1326" height="3" fill-opacity="0.0352"/>
<rect x="87" y="573" width="1326" height="3" fill-opacity="0.0358"/>
<rect x="87" y="576" width="1326" height="3" fill-opacity="0.0364"/>
<rect x="87" y="579" width="1326" height="3" fill-opacity="0.0370"/>
<rect x="87" y="582" width="1326" height="3" fill-opacity="0.0376"/>
<rect x="87" y="585" width="1326" height="3" fill-opacity="0.0382"/>
<rect x="87" y="588" width="1326" height="3" fill-opacity="0.0388"/>
<rect x="87" y="591" width="1326" height="3" fill-opacity="0.0394"/>
<rect x="87" y="594" width="1326" height="3" fill-opacity="0.0401"/>
<rect x="87" y="597" width="1326" height="3" fill-opacity="0.0407"/>
<rect x="87" y="600" width="1326" height="3" fill-opacity="0.0414"/>
<rect x="87" y="603" width="1326" height="3" fill-opacity="0.0420"/>
<rect x="87" y="606" width="1326" height="3" fill-opacity="0.0427"/>
<rect x="87" y="609" width="1326" height="3" fill-opacity="0.0433"/>
<rect x="87" y="612" width="1326" height="3" fill-opacity="0.0440"/>
<rect x="87" y="615" width="1326" height="3" fill-opacity="0.0447"/>
<rect x="87" y="618" width="1326" height="3" fill-opacity="0.0453"/>
<rect x="87" y="621" width="1326" height="3" fill-opacity="0.0460"/>
<rect x="87" y="624" width="1326" height="3" fill-opacity="0.0467"/>
<rect x="87" y="627" width="1326" height="3" fill-opacity="0.0474"/>
<rect x="87" y="630" width="1326" height="3" fill-opacity="0.0481"/>
<rect x="87" y="633" width="1326" height="3" fill-opacity="0.0488"/>
<rect x="87" y="636" width="1326" height="3" fill-opacity="0.0495"/>
<rect x="87" y="639" width="1326" height="3" fill-opacity="0.0502"/>
<rect x="87" y="642" width="1326" height="3" fill-opacity="0.0510"/>
<rect x="87" y="645" width="1326" height="3" fill-opacity="0.0517"/>
<rect x="87" y="648" width="1326" height="3" fill-opacity="0.0524"/>
<rect x="87" y="651" width="1326" height="3" fill-opacity="0.0532"/>
<rect x="87" y="654" width="1326" height="3" fill-opacity="0.0539"/>
<rect x="87" y="657" width="1326" height="3" fill-opacity="0.0547"/>
<rect x="87" y="660" width="1326" height="3" fill-opacity="0.0554"/>
<rect x="87" y="663" width="1326" height="3" fill-opacity="0.0562"/>
<rect x="87" y="666" width="1326" height="3" fill-opacity="0.0570"/>
<rect x="87" y="669" width="1326" height="3" fill-opacity="0.0578"/>
<rect x="87" y="672" width="1326" height="3" fill-opacity="0.0585"/>
<rect x="87" y="675" width="1326" height="3" fill-opacity="0.0593"/>
<rect x="87" y="678" width="1326" height="3" fill-opacity="0.0601"/>
<rect x="87" y="681" width="1326" height="3" fill-opacity="0.0609"/>
<rect x="87" y="684" width="1326" height="3" fill-opacity="0.0617"/>
<rect x="87" y="687" width="1326" height="3" fill-opacity="0.0626"/>
<rect x="87" y="690" width="1326" height="3" fill-opacity="0.0634"/>
<rect x="87" y="693" width="1326" height="3" fill-opacity="0.0642"/>
<rect x="87" y="696" width="1326" height="3" fill-opacity="0.0650"/>
<rect x="87" y="699" width="1326" height="3" fill-opacity="0.0659"/>
<rect x="87" y="702" width="1326" height="3" fill-opacity="0.0667"/>
<rect x="87" y="705" width="1326" height="3" fill-opacity="0.0676"/>
<rect x="87" y="708" width="1326" height="3" fill-opacity="0.0684"/>
<rect x="87" y="711" width="1326" height="3" fill-opacity="0.0693"/>
<rect x="87" y="714" width="1326" height="3" fill-opacity="0.0702"/>
<rect x="87" y="717" width="1326" height="3" fill-opacity="0.0710"/>
<rect x="87" y="720" width="1326" height="3" fill-opacity="0.0719"/>
<rect x="87" y="723" width="1326" height="3" fill-opacity="0.0728"/>
<rect x="87" y="726" width="1326" height="3" fill-opacity="0.0737"/>
<rect x="87" y="729" width="1326" height="3" fill-opacity="0.0746"/>
<rect x="87" y="732" width="1326" height="3" fill-opacity="0.0755"/>
<rect x="87" y="735" width="1326" height="3" fill-opacity="0.0764"/>
<rect x="87" y="738" width="1326" height="3" fill-opacity="0.0773"/>
<rect x="87" y="741" width="1326" height="3" fill-opacity="0.0783"/>
<rect x="87" y="744" width="1326" height="3" fill-opacity="0.0792"/>
<rect x="87" y="747" width="1326" height="3" fill-opacity="0.0801"/>
<rect x="87" y="750" width="1326" height="3" fill-opacity="0.0811"/>
<rect x="87" y="753" width="1326" height="3" fill-opacity="0.0820"/>
<rect x="87" y="756" width="1326" height="3" fill-opacity="0.0830"/>
<rect x="87" y="759" width="1326" height="3" fill-opacity="0.0840"/>
<rect x="87" y="762" width="1326" height="3" fill-opacity="0.0849"/>
<rect x="87" y="765" width="1326" height="3" fill-opacity="0.0859"/>
<rect x="87" y="768" width="1326" height="3" fill-opacity="0.0869"/>
<rect x="87" y="771" width="1326" height="3" fill-opacity="0.0879"/>
<rect x="87" y="774" width="1326" height="3" fill-opacity="0.0889"/>
<rect x="87" y="777" width="1326" height="3" fill-opacity="0.0899"/>
<rect x="87" y="780" width="1326" height="3" fill-opacity="0.0909"/>
<rect x="87" y="783" width="1326" height="3" fill-opacity="0.0919"/>
<rect x="87" y="786" width="1326" height="3" fill-opacity="0.0929"/>
<rect x="87" y="789" width="1326" height="3" fill-opacity="0.0940"/>
<rect x="87" y="792" width="1326" height="3" fill-opacity="0.0950"/>
<rect x="87" y="795" width="1326" height="3" fill-opacity="0.0961"/>
<rect x="87" y="798" width="1326" height="3" fill-opacity="0.0971"/>
<rect x="87" y="801" width="1326" height="3" fill-opacity="0.0982"/>
<rect x="87" y="804" width="1326" height="3" fill-opacity="0.0992"/>
<rect x="87" y="807" width="1326" height="3" fill-opacity="0.1003"/>
<rect x="87" y="810" width="1326" height="3" fill-opacity="0.1014"/>
<rect x="87" y="813" width="1326" height="3" fill-opacity="0.1025"/>
<rect x="87" y="816" width="1326" height="3" fill-opacity="0.1035"/>
<rect x="87" y="819" width="1326" height="3" fill-opacity="0.1046"/>
<rect x="87" y="822" width="1326" height="3" fill-opacity="0.1058"/>
<rect x="87" y="825" width="1326" height="3" fill-opacity="0.1069"/>
<rect x="87" y="828" width="1326" height="3" fill-opacity="0.1080"/>
<rect x="87" y="831" width="1326" height="3" fill-opacity="0.1091"/>
<rect x="87" y="834" width="1326" height="3" fill-opacity="0.1102"/>
<rect x="87" y="837" width="1326" height="3" fill-opacity="0.1114"/>
<rect x="87" y="840" width="1326" height="3" fill-opacity="0.1125"/>
<rect x="87" y="843" width="1326" height="3" fill-opacity="0.1137"/>
<rect x="87" y="846" width="1326" height="3" fill-opacity="0.1148"/>
<rect x="87" y="849" width="1326" height="3" fill-opacity="0.1160"/>
<rect x="87" y="852" width="1326" height="3" fill-opacity="0.1172"/>
<rect x="87" y="855" width="1326" height="3" fill-opacity="0.1183"/>
<rect x="87" y="858" width="1326" height="3" fill-opacity="0.1195"/>
<rect x="87" y="861" width="1326" height="3" fill-opacity="0.1207"/>
<rect x="87" y="864" width="1326" height="3" fill-opacity="0.1219"/>
<rect x="87" y="867" width="1326" height="3" fill-opacity="0.1231"/>
<rect x="87" y="870" width="1326" height="3" fill-opacity="0.1243"/>
<rect x="87" y="873" width="1326" height="3" fill-opacity="0.1256"/>
<rect x="87" y="876" width="1326" height="3" fill-opacity="0.1268"/>
<rect x="87" y="879" width="1326" height="3" fill-opacity="0.1280"/>
<rect x="87" y="882" width="1326" height="3" fill-opacity="0.1293"/>
<rect x="87" y="885" width="1326" height="3" fill-opacity="0.1305"/>
<rect x="87" y="888" width="1326" height="3" fill-opacity="0.1318"/>
<rect x="87" y="891" width="1326" height="3" fill-opacity="0.1330"/>
<rect x="87" y="894" width="1326" height="3" fill-opacity="0.1343"/>
<rect x="87" y="897" width="1326" height="3" fill-opacity="0.1356"/>
<rect x="87" y="900" width="1326" height="3" fill-opacity="0.1369"/>
<rect x="87" y="903" width="1326" height="3" fill-opacity="0.1382"/>
<rect x="87" y="906" width="1326" height="3" fill-opacity="0.1395"/>
<rect x="87" y="909" width="1326" height="3" fill-opacity="0.1408"/>
<rect x="87" y="912" width="1326" height="3" fill-opacity="0.1421"/>
<rect x="87" y="915" width="1326" height="3" fill-opacity="0.1434"/>
<rect x="87" y="918" width="1326" height="3" fill-opacity="0.1447"/>
<rect x="87" y="921" width="1326" height="3" fill-opacity="0.1461"/>
<rect x="87" y="924" width="1326" height="3" fill-opacity="0.1474"/>
<rect x="87" y="927" width="1326" height="3" fill-opacity="0.1488"/>
<rect x="87" y="930" width="1326" height="3" fill-opacity="0.1501"/>
<rect x="87" y="933" width="1326" height="3" fill-opacity="0.1515"/>
<rect x="87" y="936" width="1326" height="3" fill-opacity="0.1528"/>
<rect x="87" y="939" width="1326" height="3" fill-opacity="0.1542"/>
<rect x="87" y="942" width="1326" height="3" fill-opacity="0.1556"/>
<rect x="87" y="945" width="1326" height="3" fill-opacity="0.1570"/>
<rect x="87" y="948" width="1326" height="3" fill-opacity="0.1584"/>
<rect x="87" y="951" width="1326" height="3" fill-opacity="0.1598"/>
<rect x="87" y="954" width="1326" height="3" fill-opacity="0.1612"/>
<rect x="87" y="957" width="1326" height="3" fill-opacity="0.1626"/>
<rect x="87" y="960" width="1326" height="3" fill-opacity="0.1641"/>
<rect x="87" y="963" width="1326" height="3" fill-opacity="0.1655"/>
<rect x="87" y="966" width="1326" height="3" fill-opacity="0.1670"/>
<rect x="87" y="969" width="1326" height="3" fill-opacity="0.1684"/>
<rect x="87" y="972" width="1326" height="3" fill-opacity="0.1699"/>
<rect x="87" y="975" width="1326" height="3" fill-opacity="0.1713"/>
<rect x="87" y="978" width="1326" height="3" fill-opacity="0.1728"/>
<rect x="87" y="981" width="1326" height="3" fill-opacity="0.1743"/>
<rect x="87" y="984" width="1326" height="3" fill-opacity="0.1758"/>
<rect x="87" y="987" width="1326" height="3" fill-opacity="0.1773"/>
<rect x="87" y="990" width="1326" height="3" fill-opacity="0.1788"/>
<rect x="87" y="993" width="1326" height="3" fill-opacity="0.1803"/>
<rect x="87" y="996" width="1326" height="3" fill-opacity="0.1818"/>
<rect x="87" y="999" width="1326" height="3" fill-opacity="0.1833"/>
<rect x="87" y="1002" width="1326" height="3" fill-opacity="0.1849"/>
<rect x="87" y="1005" width="1326" height="3" fill-opacity="0.1864"/>
<rect x="87" y="1008" width="1326" height="3" fill-opacity="0.1879"/>
<rect x="87" y="1011" width="1326" height="3" fill-opacity="0.1895"/>
<rect x="87" y="1014" width="1326" height="3" fill-opacity="0.1911"/>
<rect x="87" y="1017" width="1326" height="3" fill-opacity="0.1926"/>
<rect x="87" y="1020" width="1326" height="3" fill-opacity="0.1942"/>
<rect x="87" y="1023" width="1326" height="3" fill-opacity="0.1958"/>
<rect x="87" y="1026" width="1326" height="3" fill-opacity="0.1974"/>
<rect x="87" y="1029" width="1326" height="3" fill-opacity="0.1990"/>
<rect x="87" y="1032" width="1326" height="3" fill-opacity="0.2006"/>
<rect x="87" y="1035" width="1326" height="3" fill-opacity="0.2022"/>
<rect x="87" y="1038" width="1326" height="3" fill-opacity="0.2039"/>
<rect x="87" y="1041" width="1326" height="3" fill-opacity="0.2055"/>
<rect x="87" y="1044" width="1326" height="3" fill-opacity="0.2071"/>
<rect x="87" y="1047" width="1326" height="3" fill-opacity="0.2088"/>
<rect x="87" y="1050" width="1326" height="3" fill-opacity="0.2104"/>
<rect x="87" y="1053" width="1326" height="3" fill-opacity="0.2121"/>
<rect x="87" y="1056" width="1326" height="3" fill-opacity="0.2138"/>
<rect x="87" y="1059" width="1326" height="3" fill-opacity="0.2154"/>
<rect x="87" y="1062" width="1326" height="3" fill-opacity="0.2171"/>
<rect x="87" y="1065" width="1326" height="3" fill-opacity="0.2188"/>
<rect x="87" y="1068" width="1326" height="3" fill-opacity="0.2205"/>
<rect x="87" y="1071" width="1326" height="3" fill-opacity="0.2222"/>
<rect x="87" y="1074" width="1326" height="3" fill-opacity="0.2240"/>
<rect x="87" y="1077" width="1326" height="3" fill-opacity="0.2257"/>
<rect x="87" y="1080" width="1326" height="3" fill-opacity="0.2274"/>
<rect x="87" y="1083" width="1326" height="3" fill-opacity="0.2292"/>
<rect x="87" y="1086" width="1326" height="3" fill-opacity="0.2309"/>
<rect x="87" y="1089" width="1326" height="3" fill-opacity="0.2327"/>
<rect x="87" y="1092" width="1326" height="3" fill-opacity="0.2344"/>
<rect x="87" y="1095" width="1326" height="3" fill-opacity="0.2362"/>
<rect x="87" y="1098" width="1326" height="3" fill-opacity="0.2380"/>
<rect x="87" y="1101" width="1326" height="3" fill-opacity="0.2398"/>
<rect x="87" y="1104" width="1326" height="3" fill-opacity="0.2416"/>
<rect x="87" y="1107" width="1326" height="3" fill-opacity="0.2434"/>
<rect x="87" y="1110" width="1326" height="3" fill-opacity="0.2452"/>
<rect x="87" y="1113" width="1326" height="3" fill-opacity="0.2470"/>
<rect x="87" y="1116" width="1326" height="3" fill-opacity="0.2488"/>
<rect x="87" y="1119" width="1326" height="3" fill-opacity="0.2507"/>
<rect x="87" y="1122" width="1326" height="3" fill-opacity="0.2525"/>
<rect x="87" y="1125" width="1326" height="3" fill-opacity="0.2544"/>
<rect x="87" y="1128" width="1326" height="3" fill-opacity="0.2562"/>
<rect x="87" y="1131" width="1326" height="3" fill-opacity="0.2581"/>
<rect x="87" y="1134" width="1326" height="3" fill-opacity="0.2600"/>
<rect x="87" y="1137" width="1326" height="3" fill-opacity="0.2619"/>
<rect x="87" y="1140" width="1326" height="3" fill-opacity="0.2638"/>
<rect x="87" y="1143" width="1326" height="3" fill-opacity="0.2657"/>
<rect x="87" y="1146" width="1326" height="3" fill-opacity="0.2676"/>
<rect x="87" y="1149" width="1326" height="3" fill-opacity="0.2695"/>
<rect x="87" y="1152" width="1326" height="3" fill-opacity="0.2714"/>
<rect x="87" y="1155" width="1326" height="3" fill-opacity="0.2733"/>
<rect x="87" y="1158" width="1326" height="3" fill-opacity="0.2753"/>
<rect x="87" y="1161" width="1326" height="3" fill-opacity="0.2772"/>
<rect x="87" y="1164" width="1326" height="3" fill-opacity="0.2792"/>
<rect x="87" y="1167" width="1326" height="3" fill-opacity="0.2812"/>
<rect x="87" y="1170" width="1326" height="3" fill-opacity="0.2831"/>
<rect x="87" y="1173" width="1326" height="3" fill-opacity="0.2851"/>
<rect x="87" y="1176" width="1326" height="3" fill-opacity="0.2871"/>
<rect x="87" y="1179" width="1326" height="3" fill-opacity="0.2891"/>
<rect x="87" y="1182" width="1326" height="3" fill-opacity="0.2911"/>
<rect x="87" y="1185" width="1326" height="3" fill-opacity="0.2931"/>
<rect x="87" y="1188" width="1326" height="3" fill-opacity="0.2952"/>
<rect x="87" y="1191" width="1326" height="3" fill-opacity="0.2972"/>
<rect x="87" y="1194" width="1326" height="3" fill-opacity="0.2992"/>
<rect x="87" y="1197" width="1326" height="3" fill-opacity="0.3013"/>
<rect x="87" y="1200" width="1326" height="3" fill-opacity="0.3033"/>
<rect x="87" y="1203" width="1326" height="3" fill-opacity="0.3054"/>
<rect x="87" y="1206" width="1326" height="3" fill-opacity="0.3075"/>
<rect x="87" y="1209" width="1326" height="3" fill-opacity="0.3096"/>
<rect x="87" y="1212" width="1326" height="3" fill-opacity="0.3117"/>
<rect x="87" y="1215" width="1326" height="3" fill-opacity="0.3138"/>
<rect x="87" y="1218" width="1326" height="3" fill-opacity="0.3159"/>
<rect x="87" y="1221" width="1326" height="3" fill-opacity="0.3180"/>
<rect x="87" y="1224" width="1326" height="3" fill-opacity="0.3201"/>
<rect x="87" y="1227" width="1326" height="3" fill-opacity="0.3222"/>
<rect x="87" y="1230" width="1326" height="3" fill-opacity="0.3244"/>
<rect x="87" y="1233" width="1326" height="3" fill-opacity="0.3265"/>
<rect x="87" y="1236" width="1326" height="3" fill-opacity="0.3287"/>
<rect x="87" y="1239" width="1326" height="3" fill-opacity="0.3308"/>
<rect x="87" y="1242" width="1326" height="3" fill-opacity="0.3330"/>
<rect x="87" y="1245" width="1326" height="3" fill-opacity="0.3352"/>
<rect x="87" y="1248" width="1326" height="3" fill-opacity="0.3374"/>
<rect x="87" y="1251" width="1326" height="3" fill-opacity="0.3396"/>
<rect x="87" y="1254" width="1326" height="3" fill-opacity="0.3418"/>
<rect x="87" y="1257" width="1326" height="3" fill-opacity="0.3440"/>
<rect x="87" y="1260" width="1326" height="3" fill-opacity="0.3462"/>
<rect x="87" y="1263" width="1326" height="3" fill-opacity="0.3485"/>
<rect x="87" y="1266" width="1326" height="3" fill-opacity="0.3507"/>
<rect x="87" y="1269" width="1326" height="3" fill-opacity="0.3530"/>
<rect x="87" y="1272" width="1326" height="3" fill-opacity="0.3552"/>
<rect x="87" y="1275" width="1326" height="3" fill-opacity="0.3575"/>
<rect x="87" y="1278" width="1326" height="3" fill-opacity="0.3598"/>
<rect x="87" y="1281" width="1326" height="3" fill-opacity="0.3621"/>
<rect x="87" y="1284" width="1326" height="3" fill-opacity="0.3644"/>
<rect x="87" y="1287" width="1326" height="3" fill-opacity="0.3667"/>
<rect x="87" y="1290" width="1326" height="3" fill-opacity="0.3690"/>
<rect x="87" y="1293" width="1326" height="3" fill-opacity="0.3713"/>
<rect x="87" y="1296" width="1326" height="3" fill-opacity="0.3736"/>
<rect x="87" y="1299" width="1326" height="3" fill-opacity="0.3760"/>
<rect x="87" y="1302" width="1326" height="3" fill-opacity="0.3783"/>
<rect x="87" y="1305" width="1326" height="3" fill-opacity="0.3807"/>
<rect x="87" y="1308" width="1326" height="3" fill-opacity="0.3830"/>
<rect x="87" y="1311" width="1326" height="3" fill-opacity="0.3854"/>
<rect x="87" y="1314" width="1326" height="3" fill-opacity="0.3878"/>
<rect x="87" y="1317" width="1326" height="3" fill-opacity="0.3902"/>
<rect x="87" y="1320" width="1326" height="3" fill-opacity="0.3926"/>
<rect x="87" y="1323" width="1326" height="3" fill-opacity="0.3950"/>
<rect x="87" y="1326" width="1326" height="3" fill-opacity="0.3974"/>
<rect x="87" y="1329" width="1326" height="3" fill-opacity="0.3998"/>
<rect x="87" y="1332" width="1326" height="3" fill-opacity="0.4023"/>
<rect x="87" y="1335" width="1326" height="3" fill-opacity="0.4047"/>
<rect x="87" y="1338" width="1326" height="3" fill-opacity="0.4072"/>
<rect x="87" y="1341" width="1326" height="3" fill-opacity="0.4096"/>
<rect x="87" y="1344" width="1326" height="3" fill-opacity="0.4121"/>
<rect x="87" y="1347" width="1326" height="3" fill-opacity="0.4146"/>
<rect x="87" y="1350" width="1326" height="3" fill-opacity="0.4170"/>
<rect x="87" y="1353" width="1326" height="3" fill-opacity="0.4195"/>
<rect x="87" y="1356" width="1326" height="3" fill-opacity="0.4220"/>
<rect x="87" y="1359" width="1326" height="3" fill-opacity="0.4246"/>
<rect x="87" y="1362" width="1326" height="3" fill-opacity="0.4271"/>
<rect x="87" y="1365" width="1326" height="3" fill-opacity="0.4296"/>
<rect x="87" y="1368" width="1326" height="3" fill-opacity="0.4322"/>
<rect x="87" y="1371" width="1326" height="3" fill-opacity="0.4347"/>
<rect x="87" y="1374" width="1326" height="3" fill-opacity="0.4373"/>
<rect x="87" y="1377" width="1326" height="3" fill-opacity="0.4398"/>
<rect x="87" y="1380" width="1326" height="3" fill-opacity="0.4424"/>
<rect x="87" y="1383" width="1326" height="3" fill-opacity="0.4450"/>
<rect x="87" y="1386" width="1326" height="3" fill-opacity="0.4476"/>
<rect x="87" y="1389" width="1326" height="3" fill-opacity="0.4502"/>
<rect x="87" y="1392" width="1326" height="3" fill-opacity="0.4528"/>
<rect x="87" y="1395" width="1326" height="3" fill-opacity="0.4554"/>
<rect x="87" y="1398" width="1326" height="3" fill-opacity="0.4581"/>
<rect x="87" y="1401" width="1326" height="3" fill-opacity="0.4607"/>
<rect x="87" y="1404" width="1326" height="3" fill-opacity="0.4633"/>
<rect x="87" y="1407" width="1326" height="3" fill-opacity="0.4660"/>
<rect x="87" y="1410" width="1326" height="3" fill-opacity="0.4687"/>
</g>
<g id="axes" fill="none" stroke="#000" stroke-width="6" stroke-linejoin="miter" stroke-miterlimit="10">
<path d="M36 121 L36 1453.2 L1160 1453.2"/>
<path d="M19.1 147.7 L36 123 L52.9 147.7"/>
<path d="M1137.3 1436.4 L1158.2 1453.2 L1137.3 1470"/>
</g>
<g id="pts" fill="#fff" stroke="#000" stroke-width="3">
<circle cx="133" cy="199" r="10"/>
<circle cx="1197" cy="200" r="10"/>
<circle cx="1270" cy="279.7" r="10"/>
<circle cx="1290" cy="368" r="10"/>
<circle cx="712" cy="366.75" r="10"/>
<circle cx="775" cy="526" r="10"/>
<circle cx="1009" cy="631" r="10"/>
<circle cx="835" cy="688" r="10"/>
<circle cx="1048" cy="688" r="10"/>
<circle cx="733" cy="790" r="10"/>
<circle cx="916" cy="817" r="10"/>
<circle cx="1086" cy="902" r="10"/>
<circle cx="988" cy="934" r="10"/>
<circle cx="1057" cy="1030" r="10"/>
<circle cx="511" cy="900.8" r="10"/>
</g>
<g id="txt" font-family="'Liberation Serif', serif" fill="#000" stroke="#000" stroke-width="0.25" stroke-linejoin="round">
<text id="t0" y="70.1" font-size="38.5"><tspan id="w0" x="14.7" textLength="179.56" lengthAdjust="spacingAndGlyphs">Importance</tspan> <tspan id="w1" x="202.74" textLength="118.03" lengthAdjust="spacingAndGlyphs">(ΔE[U])</tspan></text>
<text id="t1" y="1465.3" font-size="38.5"><tspan id="w2" x="1188.74" textLength="177.51" lengthAdjust="spacingAndGlyphs">Confidence</tspan> <tspan id="w3" x="1373.71" textLength="41.08" lengthAdjust="spacingAndGlyphs">(θ)</tspan></text>
<text id="t2" y="246.5" font-size="31"><tspan id="w4" x="55.01" textLength="88.24" lengthAdjust="spacingAndGlyphs">Buying</tspan> <tspan id="w5" x="150.3" textLength="13.22" lengthAdjust="spacingAndGlyphs">a</tspan> <tspan id="w6" x="171.25" textLength="73.74" lengthAdjust="spacingAndGlyphs">house</tspan></text>
<text id="t3" y="236.6" font-size="31"><tspan id="w7" x="1105.01" textLength="88.24" lengthAdjust="spacingAndGlyphs">Buying</tspan> <tspan id="w8" x="1200.3" textLength="13.22" lengthAdjust="spacingAndGlyphs">a</tspan> <tspan id="w9" x="1221.25" textLength="73.74" lengthAdjust="spacingAndGlyphs">house</tspan></text>
<text id="t4" y="321.4" font-size="31"><tspan id="w10" x="1177.01" textLength="84.49" lengthAdjust="spacingAndGlyphs">Paying</tspan> <tspan id="w11" x="1269.5" textLength="63.49" lengthAdjust="spacingAndGlyphs">taxes</tspan></text>
<text id="t5" y="404.3" font-size="31"><tspan id="w12" x="1185.26" textLength="99.99" lengthAdjust="spacingAndGlyphs">Pension</tspan> <tspan id="w13" x="1292.75" textLength="79.24" lengthAdjust="spacingAndGlyphs">saving</tspan></text>
<text id="t6" y="405" font-size="31"><tspan id="w14" x="619.26" textLength="99.99" lengthAdjust="spacingAndGlyphs">Pension</tspan> <tspan id="w15" x="726.75" textLength="79.24" lengthAdjust="spacingAndGlyphs">saving</tspan></text>
<text id="t7" y="498.4" font-size="31"><tspan id="w16" x="688" textLength="80.49" lengthAdjust="spacingAndGlyphs">Going</tspan> <tspan id="w17" x="775.75" textLength="25.7" lengthAdjust="spacingAndGlyphs">to</tspan> <tspan id="w18" x="810.25" textLength="40.24" lengthAdjust="spacingAndGlyphs">the</tspan> <tspan id="w19" x="857.25" textLength="53.72" lengthAdjust="spacingAndGlyphs">gym</tspan></text>
<text id="t8" y="606.6" font-size="31"><tspan id="w20" x="861.5" textLength="74.76" lengthAdjust="spacingAndGlyphs">Mode</tspan> <tspan id="w21" x="943.07" textLength="29.44" lengthAdjust="spacingAndGlyphs">of</tspan> <tspan id="w22" x="978.25" textLength="182.49" lengthAdjust="spacingAndGlyphs">transportation</tspan></text>
<text id="t9" y="726.5" font-size="31"><tspan id="w23" x="751.51" textLength="133.24" lengthAdjust="spacingAndGlyphs">Electricity</tspan> <tspan id="w24" x="890.75" textLength="42" lengthAdjust="spacingAndGlyphs">use</tspan></text>
<text id="t10" y="726.3" font-size="31"><tspan id="w25" x="1009.01" textLength="81.24" lengthAdjust="spacingAndGlyphs">Lunch</tspan></text>
<text id="t11" y="771.4" font-size="31"><tspan id="w26" x="639.76" textLength="80.24" lengthAdjust="spacingAndGlyphs">Organ</tspan> <tspan id="w27" x="728" textLength="113.74" lengthAdjust="spacingAndGlyphs">donation</tspan></text>
<text id="t12" y="861.1" font-size="31"><tspan id="w28" x="833.52" textLength="75.75" lengthAdjust="spacingAndGlyphs">Snack</tspan> <tspan id="w29" x="917.75" textLength="82.75" lengthAdjust="spacingAndGlyphs">choice</tspan></text>
<text id="t13" y="881.6" font-size="31"><tspan id="w30" x="1020.51" textLength="119.24" lengthAdjust="spacingAndGlyphs">Breakfast</tspan> <tspan id="w31" x="1148.25" textLength="85.49" lengthAdjust="spacingAndGlyphs">cereals</tspan></text>
<text id="t14" y="975.6" font-size="31"><tspan id="w32" x="861.76" textLength="93.49" lengthAdjust="spacingAndGlyphs">Duplex</tspan> <tspan id="w33" x="962.26" textLength="70.99" lengthAdjust="spacingAndGlyphs">paper</tspan> <tspan id="w34" x="1041.5" textLength="103.49" lengthAdjust="spacingAndGlyphs">printing</tspan></text>
<text id="t15" y="1071.6" font-size="31"><tspan id="w35" x="960.51" textLength="76.99" lengthAdjust="spacingAndGlyphs">Towel</tspan> <tspan id="w36" x="1045" textLength="100.99" lengthAdjust="spacingAndGlyphs">disposal</tspan></text>
<text id="t16" y="945" font-size="31"><tspan id="w37" x="325.25" textLength="100.24" lengthAdjust="spacingAndGlyphs">Climate</tspan> <tspan id="w38" x="433.25" textLength="177.5" lengthAdjust="spacingAndGlyphs">compensation</tspan></text>
</g>
</svg>
</body></html>
